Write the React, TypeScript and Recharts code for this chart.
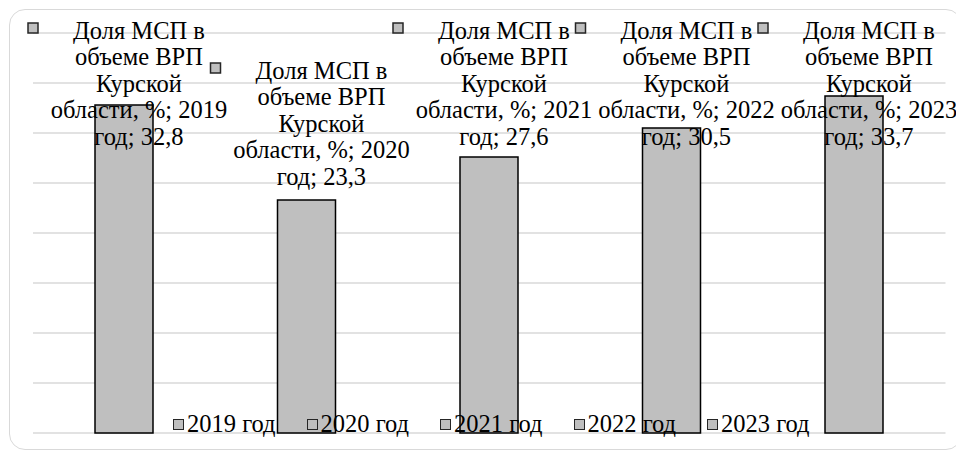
import { BarChart, Bar, XAxis, YAxis, CartesianGrid, Legend, LabelList } from "recharts";

const seriesName = ["Доля МСП в", "объеме ВРП", "Курской", "области, %;"];
const years = ["2019 год", "2020 год", "2021 год", "2022 год", "2023 год"];
const shares = [32.8, 23.3, 27.6, 30.5, 33.7];
const yTicks = [0, 5, 10, 15, 20, 25, 30, 35, 40];

const data = years.map((year, i) => ({ year, share: shares[i] }));

const FONT = "'Liberation Serif', 'Times New Roman', Tinos, serif";
const FONT_SIZE = 24.5;
const LINE_H = 26.6;
const PLOT_TOP = 25;

const fmt = (v: number) => v.toFixed(1).replace(".", ",");

const DataLabel = (props: any) => {
  const { x, y, width, index, value } = props;
  const cx = x + width / 2 + 15;
  const year = years[index];
  const lines = [
    seriesName[0],
    seriesName[1],
    seriesName[2],
    `${seriesName[3]} ${year.split(" ")[0]}`,
    `${year.split(" ")[1]}; ${fmt(value)}`,
  ];
  const firstY = Math.max(PLOT_TOP - 3, y - 130);
  return (
    <g>
      <rect
        x={cx - 111}
        y={firstY - 7}
        width={10}
        height={10}
        fill="#bfbfbf"
        stroke="#262626"
        strokeWidth={1.5}
      />
      {lines.map((l, i) => (
        <text
          key={i}
          x={cx}
          y={firstY + i * LINE_H}
          textAnchor="middle"
          dominantBaseline="central"
          style={{ fontFamily: FONT, fontSize: FONT_SIZE }}
          fill="#000"
        >
          {l}
        </text>
      ))}
    </g>
  );
};

const YearLegend = () => (
  <div style={{ display: "flex", fontFamily: FONT, fontSize: FONT_SIZE, color: "#000", lineHeight: 1 }}>
    {years.map((y) => (
      <div key={y} style={{ width: 133.5, display: "flex", alignItems: "center" }}>
        <span
          style={{
            display: "inline-block",
            width: 11,
            height: 11,
            background: "#bfbfbf",
            border: "1.5px solid #262626",
            marginRight: 3,
            boxSizing: "border-box",
          }}
        />
        <span>{y}</span>
      </div>
    ))}
  </div>
);

export default function App() {
  return (
    <div style={{ position: "relative", width: 956, height: 445 }}>
      <div
        style={{
          position: "absolute",
          left: 1,
          top: 1,
          width: 953,
          height: 441,
          border: "1.5px solid #d9d9d9",
          borderRadius: 16,
          boxSizing: "border-box",
          pointerEvents: "none",
        }}
      />
      <BarChart
        width={956}
        height={445}
        data={data}
        margin={{ top: 25, right: 18.5, bottom: 20, left: 25 }}
        barCategoryGap={0}
      >
        <CartesianGrid vertical={false} stroke="#d9d9d9" strokeWidth={1.5} />
        <XAxis dataKey="year" hide />
        <YAxis hide domain={[0, 40]} ticks={yTicks} />
        <Legend
          layout="horizontal"
          verticalAlign="middle"
          align="center"
          wrapperStyle={{ top: 404, left: 165, width: 700 }}
          content={() => <YearLegend />}
        />
        <Bar
          dataKey="share"
          barSize={58}
          fill="#bfbfbf"
          stroke="#000"
          strokeWidth={1.5}
          isAnimationActive={false}
        >
          <LabelList dataKey="share" content={DataLabel} />
        </Bar>
      </BarChart>
    </div>
  );
}
